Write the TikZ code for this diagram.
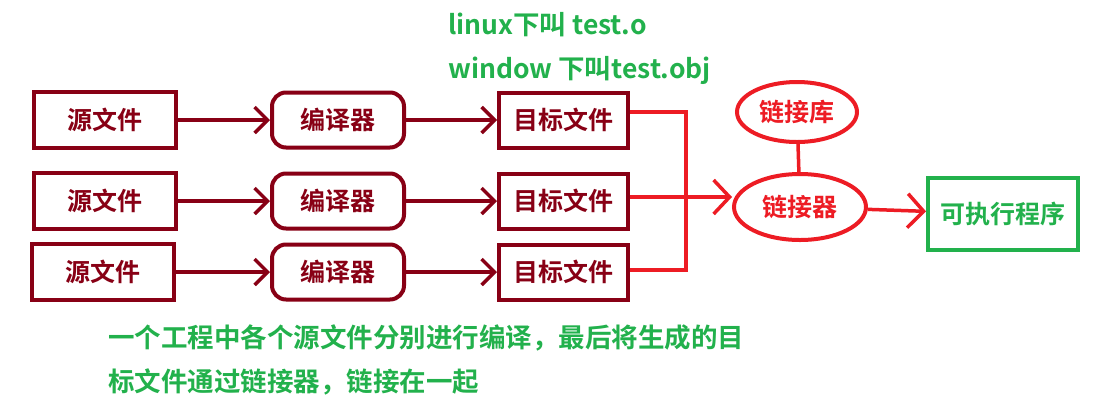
\documentclass[tikz,border=0pt]{standalone}
\usepackage{fontspec}
\newfontfamily\cjk{Noto Sans CJK SC}[BoldFont=* Bold]
\usetikzlibrary{arrows.meta,shapes.geometric}
\definecolor{dred}{HTML}{880015}
\definecolor{rred}{HTML}{ED1C24}
\definecolor{grn}{HTML}{22B14C}
\tikzset{
 box/.style={draw=dred,line width=4pt,text=dred,font=\cjk\bfseries\fontsize{25}{28}\selectfont,inner sep=0pt},
 rbox/.style={box,rounded corners=14pt},
 darr/.style={draw=dred,line width=3.5pt,-{Straight Barb[length=13pt,width=26pt,line width=3.5pt]}},
 rl/.style={draw=rred,line width=3.5pt},
 rarr/.style={rl,-{Straight Barb[length=16pt,width=34pt,line width=3.5pt]}},
 ell/.style={ellipse,draw=rred,line width=4pt,text=rred,font=\cjk\bfseries\fontsize{25}{28}\selectfont,inner sep=0pt},
 gtxt/.style={text=grn,font=\cjk\bfseries\fontsize{26.5}{30}\selectfont,anchor=west,inner sep=0pt}
}
\begin{document}
\begin{tikzpicture}[x=1pt,y=-1pt]
\useasboundingbox (0,0) rectangle (1119,416);
\fill[white] (0,0) rectangle (1119,416);
\foreach \i/\y/\x in {1/120/32,2/201/32,3/272/30}{
 \node[box,minimum width=142pt,minimum height=56pt,anchor=west] (s\i) at (\x,\y) {源文件};
 \node[rbox,minimum width=132pt,minimum height=55pt,anchor=west] (c\i) at (270,\y) {编译器};
 \node[box,minimum width=129pt,minimum height=55pt,anchor=west] (t\i) at (497,\y) {目标文件};
 \draw[darr] (s\i) -- (c\i);
 \draw[darr] (c\i) -- (t\i);
}
\node[ell,minimum width=132pt,minimum height=66pt] (lk) at (800,207) {链接器};
\node[ell,minimum width=120pt,minimum height=60pt] (lib) at (797,112) {链接库};
\node[draw=grn,line width=4pt,text=grn,font=\cjk\bfseries\fontsize{25}{28}\selectfont,minimum width=150pt,minimum height=72pt] (exe) at (1003,214) {可执行程序};
\coordinate (j1) at (686,112);
\coordinate (j3) at (686,270);
\draw[rl] (t1.east|-j1) -- (j1) -- (j3) -- (t3.east|-j3);
\draw[rarr] (t2.east|-0,197) -- (lk.west|-0,197);
\draw[rl] (lib) -- (lk);
\draw[rarr] (lk) -- (exe);
\node[gtxt] (g1) at (448,25) {linux下叫 test.o};
\node[gtxt] (g2) at (448,70) {window 下叫test.obj};
\node[gtxt] (b1) at (108,338) {一个工程中各个源文件分别进行编译，最后将生成的目};
\node[gtxt] (b2) at (108,382) {标文件通过链接器，链接在一起};
\end{tikzpicture}
\end{document}
